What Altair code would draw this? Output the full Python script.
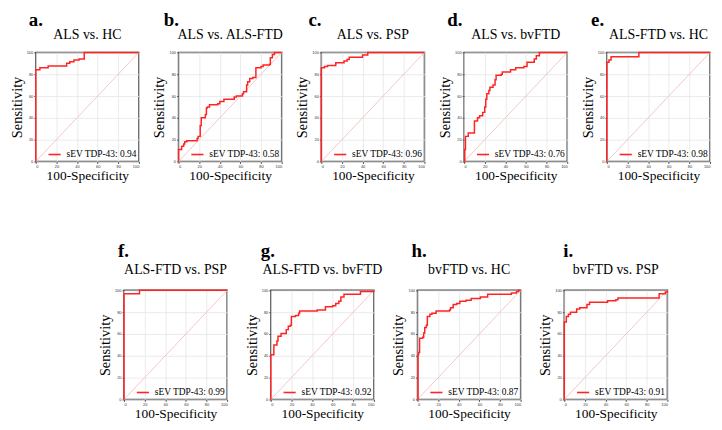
import altair as alt
import pandas as pd

# ---- data ----
titles = ["ALS vs. HC", "ALS vs. ALS-FTD", "ALS vs. PSP", "ALS vs. bvFTD", "ALS-FTD vs. HC",
          "ALS-FTD vs. PSP", "ALS-FTD vs. bvFTD", "bvFTD vs. HC", "bvFTD vs. PSP"]
letters = ["a.", "b.", "c.", "d.", "e.", "f.", "g.", "h.", "i."]
aucs = [0.94, 0.58, 0.96, 0.76, 0.98, 0.99, 0.92, 0.87, 0.91]

fpr_a = [0, 0, 4, 12, 30, 33, 37, 42, 47, 100]
tpr_a = [0, 84, 86, 87.5, 90, 91.5, 93, 94, 100, 100]

fpr_b = [0, 0, 3, 5, 6, 8, 18, 19, 21, 22, 26, 27, 28, 30, 38, 40, 44, 54, 56, 62, 63, 66, 67, 69, 72, 75, 80, 82, 88, 89, 91, 93, 100]
tpr_b = [0, 11, 14, 16, 18, 19, 21, 23, 33, 40, 43, 49, 50, 52, 53, 55, 57, 59, 60, 62, 64, 70, 73, 76, 77, 86, 87, 88.5, 89, 95, 98, 100, 100]

fpr_c = [0, 0, 3, 6, 14, 22, 25, 27, 40, 45, 100]
tpr_c = [0, 86, 87, 88, 90.5, 92, 93.5, 95.5, 97.5, 100, 100]

fpr_d = [0, 0.6, 1.3, 4, 10, 13, 15, 18, 20, 21, 22, 24, 25, 28, 30, 31, 36, 37, 45, 50, 58, 61, 68, 70, 73, 100]
tpr_d = [0, 11, 23, 26, 37, 40, 42, 45, 50, 57, 62, 65, 68, 70, 75, 79, 80, 82, 84, 86, 87, 91, 94, 97, 100, 100]

fpr_e = [0, 0, 2, 4, 31, 100]
tpr_e = [0, 91, 93, 96, 100, 100]

fpr_f = [0, 0, 15, 100]
tpr_f = [0, 97, 100, 100]

fpr_g = [0, 0, 3, 6, 7, 10, 15, 17, 19, 20, 24, 27, 28, 45, 53, 60, 63, 66, 68, 71, 87, 100]
tpr_g = [0, 41, 50, 53.5, 58, 60.5, 64, 67, 68, 76, 77, 79, 81, 82, 85, 86, 88, 90, 94, 96.5, 99, 100]

fpr_h = [0, 0.5, 1, 2, 5, 6, 7, 8.6, 9.5, 12, 14, 18, 31, 32, 34.6, 38, 41, 47, 52, 61, 68, 91, 96, 98, 100]
tpr_h = [0, 41, 43, 56, 57, 61, 66, 68, 76, 78, 79, 81, 82, 84, 87, 88, 90, 91, 92.5, 94, 96.5, 97.5, 99, 100, 100]

fpr_i = [0, 0, 2, 4, 6, 12, 15, 22, 24.5, 42, 50, 52, 92, 98, 100]
tpr_i = [0, 71, 76, 78, 80, 83, 84, 87, 89, 90.5, 91.5, 93, 97, 98.5, 100]

curves = [(fpr_a, tpr_a), (fpr_b, tpr_b), (fpr_c, tpr_c), (fpr_d, tpr_d), (fpr_e, tpr_e),
          (fpr_f, tpr_f), (fpr_g, tpr_g), (fpr_h, tpr_h), (fpr_i, tpr_i)]
tick_values = [0, 20, 40, 60, 80, 100]
diag_x = [0, 100]

# ---- layout / style ----
W, H = 104, 110
letter_dx = [-7, -15, -13, -17, -16, -6, -10, -6, -1]
letter_dy = [-33, -33, -33, -33, -33, -40, -40, -40, -40]
title_dy = [-18, -18, -18, -18, -18, -20, -20, -20, -20]
SERIF = "Liberation Serif"
RED = "#ff2424"


def panel(k):
    fpr, tpr = curves[k]
    df = pd.DataFrame({"fpr": fpr, "tpr": tpr, "idx": list(range(len(fpr))),
                       "label": ["sEV TDP-43: %.2f" % aucs[k]] * len(fpr)})
    x = alt.X("fpr:Q", scale=alt.Scale(domain=[0, 100], nice=False),
              axis=alt.Axis(values=tick_values, title="100-Specificity"))
    y = alt.Y("tpr:Q", scale=alt.Scale(domain=[0, 100], nice=False),
              axis=alt.Axis(values=tick_values, title="Sensitivity"))
    diag = alt.Chart(pd.DataFrame({"fpr": diag_x, "tpr": diag_x})).mark_line(
        color="#f4c0c0", strokeWidth=0.9).encode(x=x, y=y)
    roc = alt.Chart(df).mark_line(interpolate="step-after", strokeWidth=1.5).encode(
        x=x, y=y, order=alt.Order("idx:Q"),
        color=alt.Color("label:N", title=None, scale=alt.Scale(range=[RED]),
                        legend=alt.Legend(orient="bottom-right", offset=2, padding=0,
                                          symbolType="stroke", symbolSize=150,
                                          symbolStrokeWidth=1.6, labelFont=SERIF,
                                          labelFontSize=9.5, labelColor="black",
                                          labelOffset=5)))
    let = alt.Chart(pd.DataFrame({"t": [letters[k]]})).mark_text(
        font=SERIF, fontSize=19, fontWeight="bold", align="left", baseline="middle",
        color="black").encode(text="t:N", x=alt.value(letter_dx[k]), y=alt.value(letter_dy[k]))
    ttl = alt.Chart(pd.DataFrame({"t": [titles[k]]})).mark_text(
        font=SERIF, fontSize=14, align="center", baseline="middle",
        color="black").encode(text="t:N", x=alt.value(W / 2), y=alt.value(title_dy[k]))
    return alt.layer(diag, roc, let, ttl).properties(width=W, height=H)


spacer = alt.Chart(pd.DataFrame({"v": [0]})).mark_point(opacity=0).encode(
    x=alt.value(0), y=alt.value(0)).properties(
    width=45, height=H, view=alt.ViewBackground(stroke="transparent"))

row1 = alt.hconcat(*[panel(k) for k in range(5)], spacing=40, bounds="flush").resolve_scale(color="independent")
row2 = alt.hconcat(spacer, *[panel(k) for k in range(5, 9)], spacing=44, bounds="flush").resolve_scale(color="independent")

chart = alt.vconcat(row1, row2, spacing=240, bounds="flush").resolve_scale(
    color="independent").properties(padding=0).configure_view(
    stroke="#4a4a4a", strokeWidth=1.5).configure_axis(
    labelFontSize=4, labelFont="Liberation Sans", labelColor="#333", labelPadding=1,
    tickSize=2, tickColor="#555", domain=False, gridColor="#e6e6e6", gridWidth=0.8,
    titleFont=SERIF, titleFontWeight="normal", titleColor="black").configure_axisX(
    titleFontSize=13.5, titlePadding=0).configure_axisY(
    titleFontSize=14.5, titlePadding=2)

chart.save("out.html", embed_options={"renderer": "svg", "actions": False})
